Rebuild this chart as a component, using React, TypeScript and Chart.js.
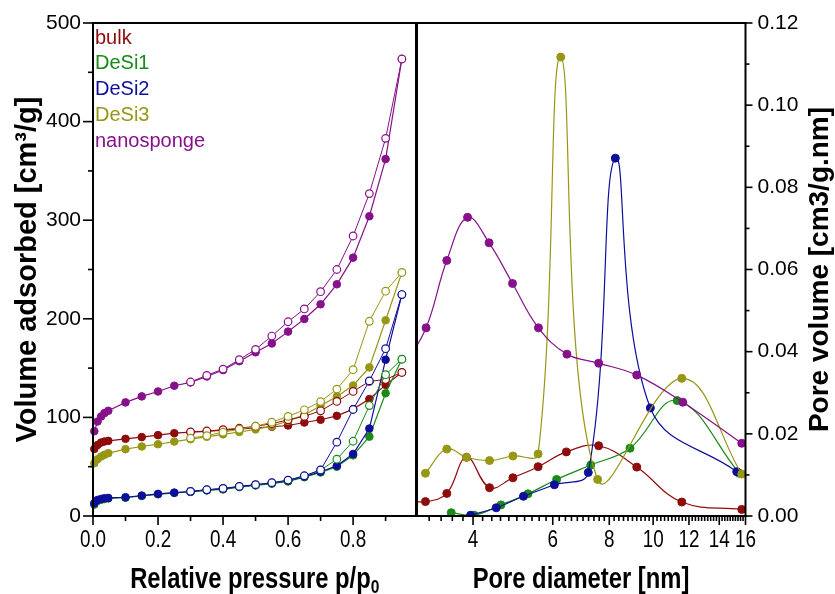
import React, { useEffect, useRef } from 'react';
import { Chart, registerables } from 'chart.js';

Chart.register(...registerables);

const W = 835;
const H = 594;
const AREA_TOP = 23;
const AREA_BOTTOM = 516;
const LEFT_X0 = 93;
const DIVIDER_X = 416.5;
const RIGHT_X1 = 745.5;

const FONT = '"Liberation Sans", Arial, Helvetica, sans-serif';

const SERIES = ['bulk', 'DeSi1', 'DeSi2', 'DeSi3', 'nanosponge'];
const COLORS = ['#8e0c0c', '#178a17', '#0e0e9c', '#979715', '#87108b'];

// ---------- Isotherms (left panel) ----------
const P_ADS = [0.004, 0.014, 0.025, 0.035, 0.047, 0.1, 0.15, 0.2, 0.25, 0.3, 0.35, 0.4, 0.45, 0.5, 0.55, 0.6, 0.65, 0.7, 0.75, 0.8, 0.85, 0.9, 0.95];
const BULK_ADS = [68, 72, 74.5, 75.5, 76.2, 78.3, 80, 82, 84, 85, 85.8, 87, 88, 89.5, 90.5, 91.8, 94.8, 97.6, 101.6, 108.4, 118.6, 133, 145.6];
const DESI1_ADS = [11.5, 15.3, 16.5, 17.2, 17.8, 18.5, 20.3, 22, 23.4, 24.4, 26, 27, 29.3, 31, 32.8, 35, 39.3, 44.2, 50, 61.5, 80.5, 124.5, 159];
const DESI2_ADS = [12.9, 16.3, 17.3, 18, 18.3, 19, 20.7, 22.4, 23.7, 24.7, 26.4, 27.4, 29.8, 31.5, 33.2, 35.5, 39.9, 44.9, 50.9, 62.9, 88.7, 158.5, 224.6];
const DESI3_ADS = [53.5, 57.6, 60.3, 62, 63.7, 67.8, 70.5, 72.8, 75.5, 77.9, 80.3, 82.8, 85.2, 87.8, 91, 96.5, 102.5, 111.8, 121.3, 132.4, 150.7, 198.5, 247];
const NANO_ADS = [86, 95.8, 100.9, 104.3, 106.7, 115.2, 121.3, 126.3, 132.1, 135.5, 141.5, 148, 157, 166, 175, 187, 199.8, 214.7, 235, 262, 304, 362, 463.5];

const P_DES = [0.95, 0.9, 0.85, 0.8, 0.75, 0.7, 0.65, 0.6, 0.55, 0.5, 0.45, 0.4, 0.35, 0.3];
const BULK_DES = [145.6, 138.5, 136.5, 126.3, 116.2, 106.7, 101, 97.6, 93.6, 91, 89, 87.5, 86.2, 85.3];
const DESI1_DES = [159, 143.3, 112, 75.8, 57.6, 46.5, 40.5, 36, 33.5, 31.5, 29.8, 28, 26.5, 25];
const DESI2_DES = [224.6, 169.7, 137, 108, 74.9, 46.7, 40.8, 36.4, 33.8, 31.8, 30, 28, 26.6, 25];
const DESI3_DES = [247, 228, 197.5, 148.4, 128.7, 116, 107.7, 101, 95.2, 91, 88, 85, 81.5, 79];
const NANO_DES = [463.5, 383, 327, 284, 250, 227.5, 210, 197, 182.5, 169, 158.5, 149, 142.6, 135.9];

// ---------- Pore size distribution (right panel) ----------
const BULK_D = [2.8, 3.14, 3.5, 3.87, 4.35, 4.9, 5.57, 6.43, 7.58, 9.2, 11.57, 15.7];
const BULK_PV = [0.004, 0.0035, 0.0055, 0.0143, 0.0069, 0.0093, 0.012, 0.0156, 0.0171, 0.0119, 0.0034, 0.0016];
const DESI1_D = [3.58, 4.02, 4.61, 5.29, 6.12, 7.28, 8.89, 11.3, 15.5];
const DESI1_PV = [0.0008, 0.0002, 0.0027, 0.0054, 0.0089, 0.0124, 0.0165, 0.0281, 0.0104];
const DESI2_D = [3.95, 4.5, 5.17, 6.05, 7.19, 8.25, 9.86, 15.3];
const DESI2_PV = [0.0002, 0.002, 0.0048, 0.0076, 0.0106, 0.0871, 0.0263, 0.0108];
const DESI3_D = [3.14, 3.5, 3.87, 4.35, 4.9, 5.57, 6.25, 7.54, 11.57, 15.7];
const DESI3_PV = [0.0104, 0.0163, 0.0143, 0.0135, 0.0146, 0.0151, 0.1117, 0.0089, 0.0335, 0.0102];
const NANO_D = [2.8, 3.15, 3.5, 3.89, 4.34, 4.89, 5.58, 6.45, 7.58, 9.2, 11.63, 15.7];
const NANO_PV = [0.036, 0.0458, 0.0622, 0.0727, 0.0665, 0.0566, 0.0458, 0.0394, 0.0372, 0.0343, 0.0277, 0.0177];

// ---------- Axis ticks ----------
const L_Y_MAJOR = [0, 100, 200, 300, 400, 500];
const L_Y_MINOR = [50, 150, 250, 350, 450];
const L_X_MAJOR = [0, 0.2, 0.4, 0.6, 0.8];
const L_X_LABELS = ['0.0', '0.2', '0.4', '0.6', '0.8'];
const L_X_MINOR = [0.1, 0.3, 0.5, 0.7, 0.9];
const R_X_MAJOR = [4, 6, 8, 10, 12, 14, 16];
const R_X_MINOR_FROM = 3.2;
const R_X_MINOR_STEP = 0.2;
const R_Y_MAJOR = [0, 0.02, 0.04, 0.06, 0.08, 0.1, 0.12];
const R_Y_LABELS = ['0.00', '0.02', '0.04', '0.06', '0.08', '0.10', '0.12'];
const R_Y_MINOR = [0.01, 0.03, 0.05, 0.07, 0.09, 0.11];

const ISO_ADS = [BULK_ADS, DESI1_ADS, DESI2_ADS, DESI3_ADS, NANO_ADS];
const ISO_DES = [BULK_DES, DESI1_DES, DESI2_DES, DESI3_DES, NANO_DES];
const PSD_D = [BULK_D, DESI1_D, DESI2_D, DESI3_D, NANO_D];
const PSD_PV = [BULK_PV, DESI1_PV, DESI2_PV, DESI3_PV, NANO_PV];

function seg(ctx: CanvasRenderingContext2D, x1: number, y1: number, x2: number, y2: number) {
  ctx.beginPath();
  ctx.moveTo(x1, y1);
  ctx.lineTo(x2, y2);
  ctx.stroke();
}

type TOpts = { size: number; bold?: boolean; color?: string; align?: CanvasTextAlign; baseline?: CanvasTextBaseline; sx?: number; rot?: number };
function txt(ctx: CanvasRenderingContext2D, s: string, x: number, y: number, o: TOpts) {
  ctx.save();
  ctx.translate(x, y);
  if (o.rot) ctx.rotate(o.rot);
  if (o.sx) ctx.scale(o.sx, 1);
  ctx.font = `${o.bold ? 'bold ' : ''}${o.size}px ${FONT}`;
  ctx.fillStyle = o.color || '#000';
  ctx.textAlign = o.align || 'center';
  ctx.textBaseline = o.baseline || 'middle';
  ctx.fillText(s, 0, 0);
  ctx.restore();
}

const leftDecor = {
  id: 'leftDecor',
  afterDraw(chart: any) {
    const { ctx, chartArea: a } = chart;
    const xs = chart.scales.x;
    const ys = chart.scales.y;
    ctx.save();
    ctx.strokeStyle = '#000';
    ctx.lineWidth = 1.6;
    L_Y_MAJOR.forEach((v) => { const p = ys.getPixelForValue(v); seg(ctx, a.left - 10, p, a.left, p); });
    L_Y_MINOR.forEach((v) => { const p = ys.getPixelForValue(v); seg(ctx, a.left - 5, p, a.left, p); });
    L_X_MAJOR.forEach((v) => { const p = xs.getPixelForValue(v); seg(ctx, p, a.bottom, p, a.bottom + 9); });
    L_X_MINOR.forEach((v) => { const p = xs.getPixelForValue(v); seg(ctx, p, a.bottom, p, a.bottom + 5); });
    ctx.lineWidth = 2;
    seg(ctx, a.left, a.top - 1, a.left, a.bottom + 1);
    seg(ctx, a.left - 1, a.bottom, a.right, a.bottom);
    seg(ctx, a.left - 1, a.top, a.right, a.top);
    ctx.lineWidth = 3;
    seg(ctx, a.right, a.top - 1, a.right, a.bottom + 1);

    L_Y_MAJOR.forEach((v) => txt(ctx, String(v), a.left - 12, ys.getPixelForValue(v), { size: 21, align: 'right' }));
    L_X_MAJOR.forEach((v, i) => txt(ctx, L_X_LABELS[i], xs.getPixelForValue(v), a.bottom + 25, { size: 23, sx: 0.82 }));

    // bottom title with subscript
    const main = 'Relative pressure p/p';
    const sub = '0';
    const sx = 0.82;
    ctx.font = `bold 29px ${FONT}`;
    const wm = ctx.measureText(main).width;
    ctx.font = `bold 19px ${FONT}`;
    const ws = ctx.measureText(sub).width;
    const x0 = (a.left + a.right) / 2 - ((wm + ws) * sx) / 2;
    txt(ctx, main, x0, a.bottom + 64, { size: 29, bold: true, align: 'left', sx });
    txt(ctx, sub, x0 + wm * sx, a.bottom + 72, { size: 19, bold: true, align: 'left', sx });

    txt(ctx, 'Volume adsorbed [cm³/g]', 28, (a.top + a.bottom) / 2, { size: 29, bold: true, rot: -Math.PI / 2 });

    SERIES.forEach((s, i) => txt(ctx, s, a.left + 2, 43.5 + i * 25.8, { size: 20, color: COLORS[i], align: 'left', baseline: 'alphabetic' }));
    ctx.restore();
  },
};

const rightDecor = {
  id: 'rightDecor',
  afterDraw(chart: any) {
    const { ctx, chartArea: a } = chart;
    const xs = chart.scales.x;
    const ys = chart.scales.y;
    ctx.save();
    ctx.strokeStyle = '#000';
    ctx.lineWidth = 1.6;
    for (let v = R_X_MINOR_FROM; v < 16; v += R_X_MINOR_STEP) {
      const r = Math.round(v * 10) / 10;
      if (R_X_MAJOR.indexOf(r) >= 0) continue;
      const p = xs.getPixelForValue(r);
      seg(ctx, p, a.bottom, p, a.bottom + 5);
    }
    R_X_MAJOR.forEach((v) => { const p = xs.getPixelForValue(v); seg(ctx, p, a.bottom, p, a.bottom + 9); });
    R_Y_MAJOR.forEach((v) => { const p = ys.getPixelForValue(v); seg(ctx, a.right, p, a.right + 7, p); });
    R_Y_MINOR.forEach((v) => { const p = ys.getPixelForValue(v); seg(ctx, a.right, p, a.right + 4, p); });
    ctx.lineWidth = 2;
    seg(ctx, a.left, a.top, a.right + 1, a.top);
    seg(ctx, a.left, a.bottom, a.right + 1, a.bottom);
    seg(ctx, a.right, a.top - 1, a.right, a.bottom + 1);
    ctx.lineWidth = 3;
    seg(ctx, a.left, a.top - 1, a.left, a.bottom + 1);

    R_X_MAJOR.forEach((v) => txt(ctx, String(v), xs.getPixelForValue(v), a.bottom + 25, { size: 23, sx: 0.82 }));
    R_Y_MAJOR.forEach((v, i) => txt(ctx, R_Y_LABELS[i], a.right + 12, ys.getPixelForValue(v), { size: 21, align: 'left' }));

    txt(ctx, 'Pore diameter [nm]', (a.left + a.right) / 2, a.bottom + 64, { size: 29, bold: true, sx: 0.82 });
    txt(ctx, 'Pore volume [cm3/g.nm]', 820, (a.top + a.bottom) / 2, { size: 28, bold: true, rot: -Math.PI / 2 });
    ctx.restore();
  },
};

export default function App() {
  const leftRef = useRef<HTMLCanvasElement>(null);
  const rightRef = useRef<HTMLCanvasElement>(null);

  useEffect(() => {
    // later series are drawn on top; desorption (open) markers above adsorption (filled)
    const desSets = SERIES.map((name, i) => ({
      label: name + ' desorption',
      data: P_DES.map((p, j) => ({ x: p, y: ISO_DES[i][j] })),
      borderColor: COLORS[i],
      borderWidth: 1,
      pointRadius: 3.8,
      pointBackgroundColor: '#ffffff',
      pointBorderColor: COLORS[i],
      pointBorderWidth: 1.2,
      tension: 0,
      clip: false,
      order: 5 - i,
    }));
    const adsSets = SERIES.map((name, i) => ({
      label: name + ' adsorption',
      data: P_ADS.map((p, j) => ({ x: p, y: ISO_ADS[i][j] })),
      borderColor: COLORS[i],
      borderWidth: 1.2,
      pointRadius: 3.8,
      pointBackgroundColor: COLORS[i],
      pointBorderColor: COLORS[i],
      pointBorderWidth: 1,
      tension: 0,
      clip: false,
      order: 20 - i,
    }));

    const left = new Chart(leftRef.current as HTMLCanvasElement, {
      type: 'line',
      data: { datasets: [...desSets, ...adsSets] as any },
      options: {
        responsive: false,
        animation: false,
        events: [],
        layout: { padding: { left: LEFT_X0, top: AREA_TOP, right: W - DIVIDER_X, bottom: H - AREA_BOTTOM } },
        scales: {
          x: { type: 'linear', min: 0, max: 0.995, display: false },
          y: { type: 'linear', min: 0, max: 500, display: false },
        },
        plugins: { legend: { display: false }, tooltip: { enabled: false } },
      },
      plugins: [leftDecor],
    });

    const psdSets = SERIES.map((name, i) => ({
      label: name,
      data: PSD_D[i].map((d, j) => ({ x: d, y: PSD_PV[i][j] })),
      borderColor: COLORS[i],
      borderWidth: 1.2,
      pointRadius: 4,
      pointBackgroundColor: COLORS[i],
      pointBorderColor: COLORS[i],
      pointBorderWidth: 1,
      tension: 0.4,
      order: 10 - i,
    }));

    const right = new Chart(rightRef.current as HTMLCanvasElement, {
      type: 'line',
      data: { datasets: psdSets as any },
      options: {
        responsive: false,
        animation: false,
        events: [],
        layout: { padding: { left: DIVIDER_X, top: AREA_TOP, right: W - RIGHT_X1, bottom: H - AREA_BOTTOM } },
        scales: {
          x: { type: 'logarithmic', min: 3, max: 16, display: false },
          y: { type: 'linear', min: 0, max: 0.12, display: false },
        },
        plugins: { legend: { display: false }, tooltip: { enabled: false } },
      },
      plugins: [rightDecor],
    });

    return () => {
      left.destroy();
      right.destroy();
    };
  }, []);

  const cStyle: React.CSSProperties = { position: 'absolute', left: 0, top: 0 };
  return (
    <div style={{ position: 'fixed', left: 0, top: 0, width: W, height: H, background: '#fff' }}>
      <canvas ref={leftRef} width={W} height={H} style={cStyle} />
      <canvas ref={rightRef} width={W} height={H} style={cStyle} />
    </div>
  );
}
